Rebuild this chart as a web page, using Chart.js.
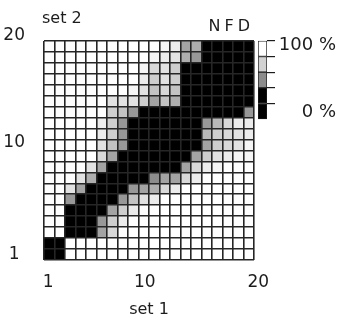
<!DOCTYPE html>
<html>
<head>
<meta charset="utf-8">
<script src="https://cdn.jsdelivr.net/npm/chart.js@4.4.1/dist/chart.umd.min.js"></script>
<style>
  html, body { margin: 0; background: #fff; }
  #wrap { position: relative; width: 337px; height: 320px; }
  #map { position: absolute; left: 0; top: 0; }
  #scale { position: absolute; left: 250px; top: 30px; }
</style>
</head>
<body>
<div id="wrap">
  <canvas id="map" width="337" height="320"></canvas>
  <canvas id="scale" width="87" height="100"></canvas>
</div>
<script>
// set 1 runs along x, set 2 along y. Cell values are NFD in %: 0 = black, 100 = white.
const set1 = ['1', '2', '3', '4', '5', '6', '7', '8', '9', '10',
              '11', '12', '13', '14', '15', '16', '17', '18', '19', '20'];

// one row per set 2 value, columns are set 1 = 1..20
const nfd20 = [100, 100, 100, 100, 100, 100, 100, 100, 100, 100, 100, 95, 90, 55, 60, 0, 0, 0, 0, 0];
const nfd19 = [100, 100, 100, 100, 100, 100, 100, 100, 100, 100, 95, 90, 85, 60, 50, 0, 0, 0, 0, 0];
const nfd18 = [100, 100, 100, 100, 100, 100, 100, 100, 100, 95, 80, 85, 75, 0, 0, 0, 0, 0, 0, 0];
const nfd17 = [100, 100, 100, 100, 100, 100, 100, 100, 100, 90, 75, 85, 75, 0, 0, 0, 0, 0, 0, 0];
const nfd16 = [100, 100, 100, 100, 100, 100, 100, 100, 95, 85, 70, 80, 70, 0, 0, 0, 0, 0, 0, 0];
const nfd15 = [100, 100, 100, 100, 100, 100, 85, 85, 85, 75, 55, 70, 60, 0, 0, 0, 0, 0, 0, 0];
const nfd14 = [100, 100, 100, 100, 100, 100, 75, 70, 50, 0, 0, 0, 0, 0, 0, 0, 0, 0, 0, 50];
const nfd13 = [100, 100, 100, 100, 100, 90, 75, 50, 0, 0, 0, 0, 0, 0, 0, 50, 65, 80, 90, 90];
const nfd12 = [100, 100, 100, 100, 100, 90, 75, 50, 0, 0, 0, 0, 0, 0, 0, 65, 75, 80, 85, 90];
const nfd11 = [100, 100, 100, 100, 100, 85, 70, 50, 0, 0, 0, 0, 0, 0, 0, 55, 75, 80, 85, 95];
const nfd10 = [100, 100, 100, 100, 100, 80, 55, 0, 0, 0, 0, 0, 0, 0, 55, 75, 85, 90, 95, 95];
const nfd9  = [100, 100, 100, 100, 85, 55, 0, 0, 0, 0, 0, 0, 0, 55, 80, 90, 95, 100, 100, 100];
const nfd8  = [100, 100, 100, 85, 60, 0, 0, 0, 0, 0, 45, 55, 55, 80, 90, 100, 100, 100, 100, 100];
const nfd7  = [100, 100, 85, 55, 0, 0, 0, 0, 50, 55, 60, 80, 90, 100, 100, 100, 100, 100, 100, 100];
const nfd6  = [100, 100, 50, 0, 0, 0, 0, 50, 70, 85, 90, 100, 100, 100, 100, 100, 100, 100, 100, 100];
const nfd5  = [100, 100, 0, 0, 0, 0, 55, 75, 90, 100, 100, 100, 100, 100, 100, 100, 100, 100, 100, 100];
const nfd4  = [100, 100, 0, 0, 0, 50, 75, 90, 100, 100, 100, 100, 100, 100, 100, 100, 100, 100, 100, 100];
const nfd3  = [100, 100, 0, 0, 0, 55, 80, 100, 100, 100, 100, 100, 100, 100, 100, 100, 100, 100, 100, 100];
const nfd2  = [0, 0, 100, 100, 100, 100, 100, 100, 100, 100, 100, 100, 100, 100, 100, 100, 100, 100, 100, 100];
const nfd1  = [0, 0, 100, 100, 100, 100, 100, 100, 100, 100, 100, 100, 100, 100, 100, 100, 100, 100, 100, 100];

const nfdRows = [nfd1, nfd2, nfd3, nfd4, nfd5, nfd6, nfd7, nfd8, nfd9, nfd10,
                 nfd11, nfd12, nfd13, nfd14, nfd15, nfd16, nfd17, nfd18, nfd19, nfd20];

// tick labels and where they sit on the 0..20 cell axes
const xTicks = ['1', '10', '20'];
const xTickAt = [0.4, 9.6, 20.4];
const yTicks = ['1', '10', '20'];
const yTickAt = [0.5, 10.7, 20.5];

// grey scale key, bottom to top
const keyShades = ['#000000', '#000000', '#8c8c8c', '#d2d2d2', '#ffffff'];
const keyBand = [1, 1, 1, 1, 1];
const keyLabels = ['100 %', '0 %'];
const keyLabelAt = [4.7, 0.45];

const ink = '#1c1c1c';
const gridColor = '#262626';
const tickFont = { family: 'DejaVu Sans', size: 17 };
const titleFont = { family: 'DejaVu Sans', size: 16 };

function shade(v) {
    const g = Math.round(255 * Math.pow(v / 100, 0.75));
    return `rgb(${g}, ${g}, ${g})`;
}

const cornerText = {
    id: 'cornerText',
    afterDraw(chart) {
        const { ctx, chartArea } = chart;
        ctx.save();
        ctx.fillStyle = ink;
        ctx.font = '16px "DejaVu Sans"';
        ctx.textBaseline = 'middle';
        ctx.textAlign = 'left';
        ctx.fillText('set 2', chartArea.left - 2, 19);
        ctx.letterSpacing = '4px';
        ctx.textAlign = 'right';
        ctx.fillText('NFD', chartArea.right, 27);
        ctx.restore();
    }
};

const cells = nfdRows.map((row, r) => ({
    label: 'set 2 = ' + (r + 1),
    data: row.map(() => [r, r + 1]),
    backgroundColor: row.map(shade),
    borderWidth: 0,
    barPercentage: 1,
    categoryPercentage: 1,
    grouped: false
}));

new Chart(document.getElementById('map'), {
    type: 'bar',
    data: { labels: set1, datasets: cells },
    options: {
        responsive: false,
        animation: false,
        events: [],
        layout: { padding: { top: 41, right: 83, left: 0, bottom: 0 } },
        plugins: { legend: { display: false }, tooltip: { enabled: false } },
        scales: {
            x: {
                type: 'category',
                grid: { z: 1, color: gridColor, lineWidth: 1.6, drawTicks: false, offset: true },
                border: { display: false },
                ticks: { display: false },
                afterFit: s => { s.height = 0; }
            },
            y: {
                type: 'linear', min: 0, max: 20,
                grid: { z: 1, color: gridColor, lineWidth: 1.6, drawTicks: false },
                border: { display: false },
                ticks: { display: false },
                afterBuildTicks: s => { s.ticks = set1.map((_, i) => ({ value: i })).concat([{ value: 20 }]); },
                afterFit: s => { s.width = 0; }
            },
            xl: {
                type: 'linear', position: 'bottom', min: 0, max: 20, offset: false,
                grid: { display: false, drawTicks: false, offset: false },
                border: { display: false },
                ticks: { autoSkip: false, maxRotation: 0, padding: 12, color: ink, font: tickFont,
                         callback: (v, i) => xTicks[i] },
                afterBuildTicks: s => { s.ticks = xTickAt.map(value => ({ value })); },
                afterFit: s => { s.height = 60; },
                title: { display: true, text: 'set 1', color: ink, font: titleFont, padding: { top: 0, bottom: 1 } }
            },
            yl: {
                type: 'linear', position: 'left', min: 0, max: 20, offset: false,
                grid: { display: false, drawTicks: false },
                border: { display: false },
                ticks: { autoSkip: false, padding: 19, crossAlign: 'center', color: ink, font: tickFont,
                         callback: (v, i) => yTicks[i] },
                afterBuildTicks: s => { s.ticks = yTickAt.map(value => ({ value })); },
                afterFit: s => { s.width = 44; }
            }
        }
    },
    plugins: [cornerText]
});

new Chart(document.getElementById('scale'), {
    type: 'bar',
    data: {
        labels: ['NFD'],
        datasets: keyShades.map((c, i) => ({
            data: [keyBand[i]],
            backgroundColor: c,
            borderColor: ink,
            borderWidth: 1,
            borderSkipped: false,
            barPercentage: 1,
            categoryPercentage: 1
        }))
    },
    options: {
        responsive: false,
        animation: false,
        events: [],
        layout: { padding: { left: 8, top: 10, bottom: 10, right: 1 } },
        plugins: { legend: { display: false }, tooltip: { enabled: false } },
        scales: {
            x: { display: false, stacked: true },
            y: {
                position: 'right', stacked: true, min: 0, max: 5,
                grid: { drawOnChartArea: false, drawTicks: true, tickLength: 8, color: ink, lineWidth: 1.2 },
                border: { display: false },
                ticks: { display: false },
                afterBuildTicks: s => { s.ticks = [1, 2, 3, 4, 5].map(value => ({ value })); },
                afterFit: s => { s.width = 8; }
            },
            yl: {
                position: 'right', min: 0, max: 5,
                grid: { display: false, drawTicks: false },
                border: { display: false },
                ticks: { autoSkip: false, padding: 0, crossAlign: 'far', color: ink,
                         font: { family: 'DejaVu Sans', size: 18 },
                         callback: (v, i) => keyLabels[i] },
                afterBuildTicks: s => { s.ticks = keyLabelAt.map(value => ({ value })); },
                afterFit: s => { s.width = 61; }
            }
        }
    }
});
</script>
</body>
</html>
